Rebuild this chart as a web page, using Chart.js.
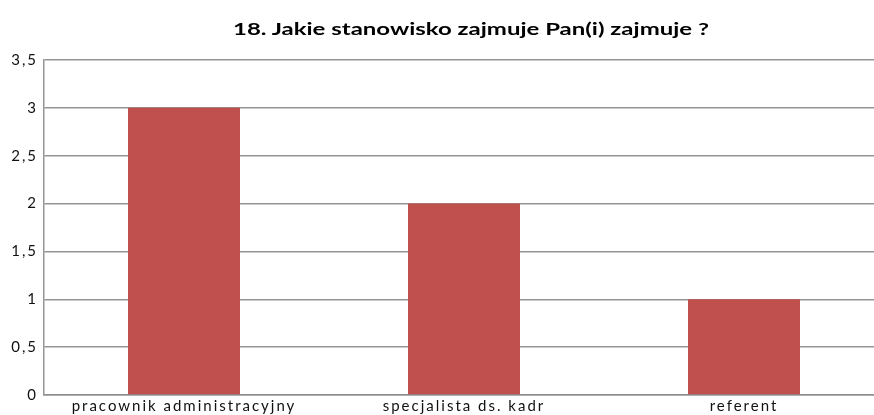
<!DOCTYPE html>
<html>
<head>
<meta charset="utf-8">
<script src="https://cdn.jsdelivr.net/npm/chart.js@4"></script>
<style>
  html, body { margin: 0; padding: 0; background: #fff; overflow: hidden; }
  #wrap { position: relative; width: 874px; height: 415px; overflow: hidden; }
  #title { position: absolute; top: 18px; left: 471px; white-space: nowrap; font: bold 17px Lato, "Open Sans", sans-serif; color: #000; transform: translateX(-50%) scaleX(1.41); transform-origin: center; }
  canvas { position: absolute; left: 0; top: 0; }
</style>
</head>
<body>
<div id="wrap">
  <canvas id="c" width="884" height="415"></canvas>
  <div id="title">18. Jakie stanowisko zajmuje Pan(i) zajmuje ?</div>
</div>
<script>
const categories = ["pracownik administracyjny", "specjalista ds. kadr", "referent"];
const values = [3, 2, 1];
const yTicks = [0, 0.5, 1, 1.5, 2, 2.5, 3, 3.5];

const spacing = {
  id: 'spacing',
  beforeInit(chart) { chart.ctx.letterSpacing = '2px'; },
  beforeDraw(chart) { chart.ctx.letterSpacing = '2px'; }
};

new Chart(document.getElementById('c'), {
  type: 'bar',
  data: {
    labels: categories,
    datasets: [{
      data: values,
      backgroundColor: '#C0504D',
      borderWidth: 0,
      categoryPercentage: 1,
      barPercentage: 0.4
    }]
  },
  options: {
    responsive: false,
    animation: false,
    layout: { padding: { top: 60, right: 0, left: 0, bottom: 0 } },
    plugins: { legend: { display: false }, title: { display: false }, tooltip: { enabled: false } },
    scales: {
      x: {
        grid: { display: false, drawTicks: false },
        border: { color: '#8e8e8e', width: 1.5 },
        ticks: { color: '#111', font: { family: 'Lato', size: 15 }, padding: 2, maxRotation: 0 },
        afterFit: s => { s.height = 20; }
      },
      y: {
        min: 0, max: 3.5,
        afterBuildTicks: s => { s.ticks = yTicks.map(v => ({ value: v })); },
        grid: { color: '#959595', lineWidth: 1.5, drawTicks: false },
        border: { color: '#959595', width: 1.5 },
        ticks: {
          color: '#111', font: { family: 'Lato', size: 15 }, padding: 6,
          callback: v => String(v).replace('.', ',')
        },
        afterFit: s => { s.width = 44; }
      }
    }
  },
  plugins: [spacing]
});
</script>
</body>
</html>
